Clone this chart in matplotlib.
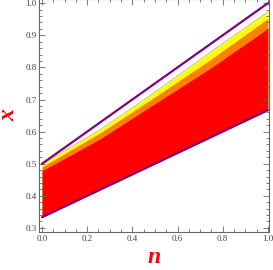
import matplotlib.pyplot as plt
from matplotlib.ticker import MultipleLocator

# values
n = [0.0, 0.257, 0.5, 0.743, 1.0]
x_upper = [0.5, 0.6285, 0.75, 0.8715, 1.0]
x_lower = [0.3333, 0.419, 0.5, 0.581, 0.6667]
x_yellow = [0.498, 0.606, 0.723, 0.846, 0.973]
x_orange = [0.49, 0.596, 0.708, 0.823, 0.952]
x_red = [0.478, 0.577, 0.687, 0.796, 0.921]

x_ticks = [0.0, 0.2, 0.4, 0.6, 0.8, 1.0]
y_ticks = [0.3, 0.4, 0.5, 0.6, 0.7, 0.8, 0.9, 1.0]

fig = plt.figure(figsize=(2.73, 2.70), dpi=100)
ax = fig.add_axes([0.144, 0.141, 0.842, 0.862])

ax.fill_between(n, x_lower, x_yellow, color="#ffff00", lw=0)
ax.fill_between(n, x_lower, x_orange, color="#ff8000", lw=0)
ax.fill_between(n, x_lower, x_red, color="#ff0000", lw=0)
ax.plot(n, x_yellow, color="#b0a000", lw=0.4)
ax.plot(n, x_upper, color="#800080", lw=1.6, solid_capstyle="round")
ax.plot(n, x_lower, color="#800080", lw=1.6, solid_capstyle="round")

ax.set_xlim(-0.012, 1.006)
ax.set_ylim(0.2875, 1.0125)

tick_font = {"family": "Liberation Serif", "size": 6.5, "color": "#444444"}
ax.set_xticks(x_ticks)
ax.set_xticklabels([f"{t:.1f}" for t in x_ticks], fontdict=tick_font)
ax.set_yticks(y_ticks)
ax.set_yticklabels([f"{t:.1f}" for t in y_ticks], fontdict=tick_font)
ax.xaxis.set_minor_locator(MultipleLocator(0.05))
ax.yaxis.set_minor_locator(MultipleLocator(0.02))
ax.tick_params(which="both", direction="in", top=True, right=True,
               color="#666666", width=0.6, pad=2)
ax.tick_params(which="major", length=4)
ax.tick_params(which="minor", length=2)

for s in ax.spines.values():
    s.set_color("#666666")
    s.set_linewidth(0.8)

label_font = {"family": "Liberation Serif", "size": 17, "color": "#ff0000",
              "weight": "bold", "style": "italic"}
ax.set_xlabel("n", fontdict=label_font, labelpad=3)
ax.set_ylabel("x", fontdict=label_font)
ax.yaxis.set_label_coords(-0.085, 0.50)

fig.savefig("out.png", dpi=100)
